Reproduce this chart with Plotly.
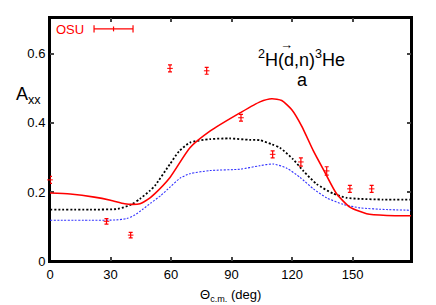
import plotly.graph_objects as go

# OSU data
osu_x = [0, 28, 40, 59.5, 77.7, 94.7, 110.4, 124.4, 137.2, 148.7, 159.5]
osu_y = [0.235, 0.115, 0.075, 0.558, 0.551, 0.415, 0.309, 0.287, 0.261, 0.209, 0.209]
osu_err = [0.01, 0.008, 0.008, 0.01, 0.01, 0.01, 0.01, 0.012, 0.012, 0.01, 0.01]

# red solid curve
red_x = [0, 10, 22, 30, 37, 41, 44.6, 49.6, 52, 59.5, 69.4, 79.3, 94.2, 104.1, 110, 114.9, 119.8, 124.8, 130.6, 136.3, 142.1, 148.7, 157, 167, 179]
red_y = [0.197, 0.194, 0.185, 0.176, 0.166, 0.164, 0.166, 0.183, 0.195, 0.242, 0.328, 0.376, 0.429, 0.461, 0.470, 0.465, 0.439, 0.391, 0.319, 0.257, 0.195, 0.156, 0.137, 0.132, 0.131]

# black dotted curve
blk_x = [0, 20, 33.7, 40.5, 44.6, 49.6, 52, 59.5, 64, 69.4, 79.3, 89, 99, 104, 110, 114, 120.5, 125.6, 132.2, 140.5, 147.1, 153.7, 165, 179]
blk_y = [0.149, 0.149, 0.151, 0.164, 0.180, 0.204, 0.218, 0.281, 0.318, 0.343, 0.353, 0.355, 0.351, 0.350, 0.338, 0.328, 0.295, 0.261, 0.223, 0.195, 0.183, 0.180, 0.178, 0.178]

# blue dotted curve
blu_x = [0, 20, 33, 38, 42, 46, 50, 55, 59.5, 64.5, 69.4, 79.3, 94.2, 104, 110.7, 117.4, 124, 130.6, 137.2, 145.4, 153.7, 167, 179]
blu_y = [0.118, 0.118, 0.119, 0.123, 0.133, 0.150, 0.168, 0.190, 0.214, 0.240, 0.253, 0.262, 0.266, 0.276, 0.281, 0.269, 0.242, 0.209, 0.183, 0.164, 0.154, 0.149, 0.147]

x_ticks = [0, 30, 60, 90, 120, 150]
y_ticks = [0, 0.2, 0.4, 0.6]
y_tick_text = ["0", "0.2", "0.4", "0.6"]

FONT = "Liberation Sans, Arial, sans-serif"

fig = go.Figure()
fig.add_trace(go.Scatter(x=blu_x, y=blu_y, mode="lines",
                         line=dict(color="#3030ff", width=1.1, dash="2px,1.5px", shape="spline", smoothing=0.6), showlegend=False))
fig.add_trace(go.Scatter(x=blk_x, y=blk_y, mode="lines",
                         line=dict(color="black", width=1.8, dash="2px,2px", shape="spline", smoothing=0.6), showlegend=False))
fig.add_trace(go.Scatter(x=red_x, y=red_y, mode="lines",
                         line=dict(color="red", width=1.6, shape="spline", smoothing=0.6), showlegend=False))
fig.add_trace(go.Scatter(x=osu_x, y=osu_y, mode="markers", cliponaxis=False,
                         marker=dict(symbol="line-ew", size=4, color="red", line=dict(color="red", width=1)),
                         error_y=dict(type="data", array=osu_err, color="red", thickness=1.2, width=2),
                         showlegend=False))

axis_common = dict(ticks="inside", ticklen=4, tickwidth=1.5, showline=True, linewidth=2, linecolor="black",
                   mirror="ticks", showgrid=False, zeroline=False, layer="below traces",
                   tickfont=dict(size=13, color="black"))

# page body has an 8px margin, so the figure is shrunk and offset to keep the plot frame in place
fig.update_layout(
    width=428, height=297,
    margin=dict(l=42, r=25, t=8, b=44),
    paper_bgcolor="white", plot_bgcolor="white",
    font=dict(family=FONT, size=13, color="black"),
    xaxis=dict(range=[0, 179], tickvals=x_ticks, **axis_common),
    yaxis=dict(range=[0, 0.704], tickvals=y_ticks, ticktext=y_tick_text, **axis_common),
    annotations=[
        dict(text="<sup>2</sup>H(d,n)<sup>3</sup>He", x=124.5, y=0.586, xref="x", yref="y", showarrow=False,
             xanchor="center", yanchor="middle", font=dict(size=18, family=FONT)),
        dict(text="\u2192", x=117.5, y=0.627, xref="x", yref="y", showarrow=False,
             xanchor="center", yanchor="middle", font=dict(size=13, family=FONT)),
        dict(text="a", x=125.3, y=0.523, xref="x", yref="y", showarrow=False,
             xanchor="center", yanchor="middle", font=dict(size=18, family=FONT)),
        dict(text="A<sub>xx</sub>", x=-0.02, y=0.68, xref="paper", yref="paper", xanchor="right", yanchor="middle",
             showarrow=False, font=dict(size=18, family=FONT)),
        dict(text="\u0398<sub>c.m.</sub> (deg)", x=0.5, y=-0.14, xref="paper", yref="paper", xanchor="center",
             yanchor="middle", showarrow=False, font=dict(size=13, family=FONT)),
        dict(text="OSU", x=0.012, y=0.951, xref="paper", yref="paper", xanchor="left", yanchor="middle",
             showarrow=False, font=dict(size=13, color="red", family=FONT)),
    ],
    shapes=[
        dict(type="rect", xref="paper", yref="paper", x0=0, x1=1, y0=0, y1=1, line=dict(color="black", width=2), layer="below"),
        dict(type="line", xref="paper", yref="paper", x0=0.122, x1=0.23, y0=0.955, y1=0.955, line=dict(color="red", width=1.2)),
        dict(type="line", xref="paper", yref="paper", x0=0.122, x1=0.122, y0=0.94, y1=0.97, line=dict(color="red", width=1.2)),
        dict(type="line", xref="paper", yref="paper", x0=0.23, x1=0.23, y0=0.94, y1=0.97, line=dict(color="red", width=1.2)),
        dict(type="line", xref="paper", yref="paper", x0=0.176, x1=0.176, y0=0.945, y1=0.965, line=dict(color="red", width=1.2)),
    ],
)

fig.write_html("out.html")
